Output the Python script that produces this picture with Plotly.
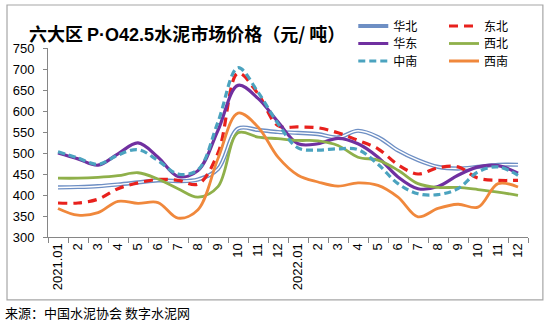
import plotly.graph_objects as go

months = list(range(24))
tick_labels = ["2021.01", "2", "3", "4", "5", "6", "7", "8", "9", "10", "11", "12",
               "2022.01", "2", "3", "4", "5", "6", "7", "8", "9", "10", "11", "12"]

huabei = [418, 419, 421, 425, 430, 435, 433, 437, 462, 558, 555, 550,
          548, 545, 537, 553, 538, 506, 483, 467, 463, 467, 472, 472]
dongbei = [381, 381, 390, 415, 429, 437, 435, 426, 500, 690, 641, 565,
           562, 560, 548, 530, 510, 472, 450, 465, 467, 440, 435, 435]
huadong = [500, 486, 471, 498, 524, 490, 444, 458, 554, 661, 630, 574,
           522, 522, 535, 522, 490, 443, 415, 420, 447, 467, 470, 452]
zhongnan = [503, 488, 473, 495, 508, 482, 450, 460, 574, 703, 645, 570,
            512, 507, 510, 508, 473, 427, 403, 401, 415, 455, 467, 447]
xibei = [440, 440, 442, 446, 453, 438, 415, 395, 420, 548, 538, 534,
         530, 529, 518, 490, 483, 459, 427, 418, 418, 413, 407, 399]
xinan = [368, 352, 358, 385, 380, 382, 345, 365, 487, 595, 562, 490,
         447, 431, 421, 429, 423, 395, 348, 368, 378, 371, 427, 419]

y_ticks = [300, 350, 400, 450, 500, 550, 600, 650, 700, 750]

CJK = "Noto Sans CJK SC"
NUM = "Liberation Sans Narrow, Arial Narrow, Liberation Sans, Arial"

fig = go.Figure()

def add(name, y, color, width, dash="solid", legend="legend", showlegend=True, group=None):
    fig.add_trace(go.Scatter(
        x=months, y=y, name=name, mode="lines",
        line=dict(color=color, width=width, dash=dash, shape="spline", smoothing=1),
        legend=legend, showlegend=showlegend, legendgroup=group or name,
        hoverinfo="skip"))

# 华北: double line (outer blue + inner white)
add("华北", huabei, "#6E8FC4", 4.2, legend="legend")
add("华北_inner", huabei, "#FFFFFF", 1.4, legend="legend", showlegend=False, group="华北")
add("东北", dongbei, "#E8211D", 3.2, dash="9px,6px", legend="legend2")
add("华东", huadong, "#7030A0", 3.2, legend="legend3")
add("西北", xibei, "#8FB04A", 2.8, legend="legend4")
add("中南", zhongnan, "#4BA3BF", 3.2, dash="7px,4px", legend="legend5")
add("西南", xinan, "#F0883C", 2.8, legend="legend6")

leg_font = dict(family=CJK, size=12, color="#000000")
col_x = [0.636, 0.825]
row_y = [1 + (48 - 26) / 189, 1 + (48 - 43.5) / 189, 1 + (48 - 61) / 189]

def leg(cx, ry):
    return dict(x=cx, y=ry, xanchor="left", yanchor="middle", font=leg_font,
                bgcolor="rgba(0,0,0,0)", tracegroupgap=0, itemwidth=30)

fig.update_layout(
    width=550, height=323,
    margin=dict(l=48, r=22, t=48, b=86),
    paper_bgcolor="white", plot_bgcolor="white",
    showlegend=True,
    legend=leg(col_x[0], row_y[0]),
    legend2=leg(col_x[1], row_y[0]),
    legend3=leg(col_x[0], row_y[1]),
    legend4=leg(col_x[1], row_y[1]),
    legend5=leg(col_x[0], row_y[2]),
    legend6=leg(col_x[1], row_y[2]),
    xaxis=dict(range=[-0.5, 23.5], tickmode="array", tickvals=months, ticktext=tick_labels,
               tickangle=-90, ticks="", showline=True, linecolor="#868686", linewidth=1,
               showgrid=False, zeroline=False,
               tickfont=dict(family=NUM, size=13, color="#000000"),
               minor=dict(tickmode="array", tickvals=[m - 0.5 for m in months] + [23.5],
                          ticks="outside", ticklen=5, tickcolor="#868686", showgrid=False)),
    yaxis=dict(range=[300, 750], tickmode="array", tickvals=y_ticks,
               ticks="outside", ticklen=4, tickcolor="#868686",
               showline=True, linecolor="#868686", linewidth=1,
               showgrid=False, zeroline=False, ticklabelstandoff=6,
               tickfont=dict(family=NUM, size=13, color="#000000")),
)

fig.add_annotation(
    text="<b>六大区 <span style='font-family:Liberation Sans, Arial'>P·O42.5</span>水泥市场价格（元/ 吨）</b>",
    xref="paper", yref="paper", x=-0.044, y=1.079,
    xanchor="left", yanchor="middle", showarrow=False,
    font=dict(family=CJK, size=18, color="#000000"))
fig.add_annotation(text="来源：中国水泥协会 数字水泥网",
                   xref="paper", yref="paper", x=-0.094, y=-0.402,
                   xanchor="left", yanchor="middle", showarrow=False,
                   font=dict(family=CJK, size=13, color="#000000"))
fig.add_shape(type="rect", xref="paper", yref="paper",
              x0=-0.0854, x1=1.031, y0=-0.333, y1=1.2275,
              line=dict(color="#A6A6A6", width=1.2), fillcolor="rgba(0,0,0,0)", layer="below")

fig.write_html("out.html")
